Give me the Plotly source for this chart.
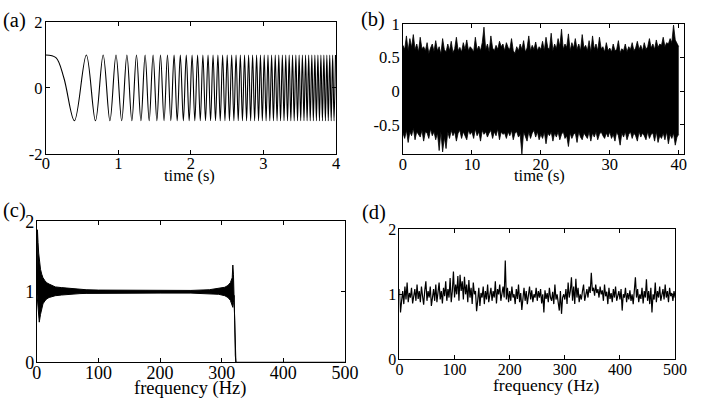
import numpy as np
import plotly.graph_objects as go

# ---------------- data ----------------
# (a) chirp: times (s) of successive extrema / shape points and their values
chirp_t = [0.000, 0.140, 0.250, 0.395, 0.559, 0.685, 0.791, 0.884, 0.968, 1.046, 1.118, 1.186,
           1.250, 1.311, 1.369, 1.425, 1.479, 1.531, 1.581, 1.630, 1.677, 1.723,
           1.768, 1.811, 1.854, 1.896, 1.936, 1.976, 2.016, 2.054, 2.092, 2.129,
           2.165, 2.201, 2.236, 2.271, 2.305, 2.339, 2.372, 2.404, 2.437, 2.469,
           2.500, 2.531, 2.562, 2.592, 2.622, 2.652, 2.681, 2.710, 2.739, 2.767,
           2.795, 2.823, 2.850, 2.878, 2.905, 2.932, 2.958, 2.984, 3.010, 3.036,
           3.062, 3.087, 3.112, 3.137, 3.162, 3.187, 3.211, 3.235, 3.260, 3.283,
           3.307, 3.331, 3.354, 3.377, 3.400, 3.423, 3.446, 3.469, 3.491, 3.513,
           3.536, 3.558, 3.580, 3.601, 3.623, 3.644, 3.666, 3.687, 3.708, 3.729,
           3.750, 3.771, 3.791, 3.812, 3.832, 3.853, 3.873, 3.893, 3.913, 3.933,
           3.953, 3.972, 3.992]
chirp_v = [1, 0.92, 0.30, -1, 1, -1, 1, -1, 1, -1, 1, -1,
           1, -1, 1, -1, 1, -1, 1, -1, 1, -1,
           1, -1, 1, -1, 1, -1, 1, -1, 1, -1,
           1, -1, 1, -1, 1, -1, 1, -1, 1, -1,
           1, -1, 1, -1, 1, -1, 1, -1, 1, -1,
           1, -1, 1, -1, 1, -1, 1, -1, 1, -1,
           1, -1, 1, -1, 1, -1, 1, -1, 1, -1,
           1, -1, 1, -1, 1, -1, 1, -1, 1, -1,
           1, -1, 1, -1, 1, -1, 1, -1, 1, -1,
           1, -1, 1, -1, 1, -1, 1, -1, 1, -1,
           1, -1, 1]

# (b) noise: upper / lower envelope every 0.25 s from 0 to 40 s
noise_upper = [0.68, 0.62, 0.82, 0.60, 0.78, 0.65, 0.84, 0.62, 0.70, 0.58, 0.80, 0.63, 0.66, 0.60, 0.72, 0.56, 0.64, 0.70, 0.59, 0.75,
               0.60, 0.66, 0.55, 0.78, 0.62, 0.58, 0.70, 0.60, 0.74, 0.57, 0.63, 0.80, 0.60, 0.65, 0.58, 0.72, 0.62, 0.76, 0.60, 0.66,
               0.63, 0.58, 0.80, 0.61, 0.67, 0.60, 0.72, 0.95, 0.62, 0.70, 0.58, 0.82, 0.64, 0.60, 0.68, 0.62, 0.74, 0.66, 0.70, 0.60,
               0.72, 0.65, 0.62, 0.78, 0.60, 0.56, 0.66, 0.60, 0.70, 0.62, 0.75, 0.58, 0.64, 0.82, 0.60, 0.68, 0.62, 0.73, 0.60, 0.66,
               0.62, 0.74, 0.60, 0.80, 0.65, 0.62, 0.86, 0.60, 0.70, 0.63, 0.78, 0.66, 0.92, 0.62, 0.70, 0.65, 0.85, 0.60, 0.72, 0.64,
               0.78, 0.62, 0.70, 0.60, 0.84, 0.64, 0.68, 0.60, 0.75, 0.58, 0.82, 0.62, 0.70, 0.60, 0.80, 0.63, 0.66, 0.58, 0.72, 0.60,
               0.64, 0.58, 0.70, 0.60, 0.62, 0.75, 0.57, 0.63, 0.60, 0.70, 0.58, 0.66, 0.62, 0.72, 0.60, 0.64, 0.74, 0.62, 0.68, 0.60,
               0.72, 0.62, 0.66, 0.78, 0.64, 0.70, 0.62, 0.76, 0.65, 0.70, 0.68, 0.80, 0.66, 0.72, 0.70, 0.78, 0.72, 0.98, 0.76, 0.70,
               0.66]
noise_lower = [-0.62, -0.70, -0.58, -0.76, -0.60, -0.66, -0.55, -0.72, -0.60, -0.64, -0.68, -0.58, -0.74, -0.60, -0.62, -0.70, -0.56, -0.66, -0.60, -0.72,
               -0.62, -0.88, -0.60, -0.90, -0.68, -0.85, -0.60, -0.70, -0.58, -0.66, -0.60, -0.74, -0.62, -0.58, -0.70, -0.60, -0.66, -0.72, -0.58, -0.64,
               -0.60, -0.70, -0.56, -0.66, -0.60, -0.74, -0.58, -0.64, -0.60, -0.68, -0.62, -0.58, -0.70, -0.60, -0.66, -0.56, -0.72, -0.60, -0.64, -0.62,
               -0.70, -0.60, -0.66, -0.58, -0.72, -0.62, -0.60, -0.68, -0.64, -0.93, -0.60, -0.66, -0.74, -0.60, -0.70, -0.62, -0.58, -0.68, -0.60, -0.72,
               -0.64, -0.70, -0.60, -0.78, -0.62, -0.66, -0.60, -0.74, -0.62, -0.68, -0.60, -0.72, -0.64, -0.60, -0.70, -0.66, -0.82, -0.62, -0.70, -0.64,
               -0.62, -0.76, -0.60, -0.68, -0.72, -0.62, -0.66, -0.70, -0.60, -0.74, -0.62, -0.68, -0.60, -0.72, -0.64, -0.60, -0.66, -0.70, -0.62, -0.68,
               -0.60, -0.70, -0.64, -0.74, -0.60, -0.66, -0.80, -0.62, -0.68, -0.60, -0.72, -0.64, -0.60, -0.70, -0.62, -0.66, -0.74, -0.60, -0.68, -0.62,
               -0.66, -0.72, -0.60, -0.70, -0.64, -0.62, -0.74, -0.60, -0.76, -0.66, -0.70, -0.62, -0.72, -0.60, -0.78, -0.64, -0.70, -0.62, -0.80, -0.68,
               -0.64]
noise_t = np.linspace(0, 40, len(noise_upper))

# (c) chirp spectrum envelope
spec_f = [0, 1, 2, 3, 4, 6, 8, 10, 13, 16,
          20, 25, 30, 40, 50, 60, 70, 80, 100, 150,
          200, 250, 280, 295, 305, 310, 314, 317, 318, 319,
          320, 321, 322, 323, 500]
spec_upper = [1.0, 1.88, 1.7, 1.55, 1.45, 1.32, 1.25, 1.2, 1.16, 1.13,
              1.11, 1.09, 1.07, 1.06, 1.05, 1.04, 1.035, 1.03, 1.025, 1.02,
              1.02, 1.02, 1.03, 1.045, 1.065, 1.09, 1.13, 1.2, 1.38, 1.25,
              1.0, 0.6, 0.1, 0.0, 0.0]
spec_lower = [1.0, 0.9, 0.7, 0.6, 0.57, 0.68, 0.78, 0.83, 0.87, 0.9,
              0.92, 0.935, 0.945, 0.955, 0.965, 0.97, 0.975, 0.978, 0.98, 0.982,
              0.982, 0.982, 0.975, 0.965, 0.945, 0.92, 0.88, 0.82, 0.78, 0.85,
              0.95, 0.6, 0.1, 0.0, 0.0]

# (d) noise spectrum, every 2 Hz from 0 to 500 Hz
nspec = [1.08, 0.72, 0.90, 1.05, 0.85, 1.12, 0.92, 1.18, 0.88, 1.02, 0.95, 1.10, 0.86, 1.00, 1.08, 0.90, 1.15, 0.93, 1.05, 0.88, 1.12, 0.97, 0.84, 1.06, 1.20,
         0.90, 1.05, 0.95, 1.12, 0.82, 1.00, 1.08, 0.90, 1.15, 0.88, 1.02, 1.18, 0.92, 1.05, 0.86, 1.10, 0.97, 1.20, 0.90, 1.08, 0.95, 1.25, 0.88, 1.05, 1.35,
         0.95, 1.15, 1.00, 1.28, 0.90, 1.30, 1.05, 1.20, 0.92, 1.27, 1.00, 1.15, 0.88, 1.22, 0.95, 1.10, 0.85, 1.18, 1.00, 1.05, 0.74, 0.90, 1.10, 0.82, 1.02,
         0.95, 1.12, 0.85, 1.05, 0.92, 1.15, 0.88, 1.00, 1.10, 0.90, 1.05, 0.95, 1.20, 0.86, 1.08, 1.00, 1.15, 0.90, 1.02, 1.12, 0.95, 1.52, 0.92, 1.10, 0.88,
         1.05, 0.90, 1.12, 0.95, 1.00, 0.85, 1.08, 0.93, 1.15, 0.88, 1.02, 0.76, 0.95, 1.10, 0.90, 1.05, 0.85, 1.00, 1.12, 0.92, 1.06, 0.88, 1.00, 0.95, 1.10,
         0.90, 1.05, 0.95, 1.08, 0.86, 1.00, 0.72, 1.06, 0.93, 1.02, 0.88, 1.10, 0.95, 0.90, 1.04, 0.85, 1.15, 0.92, 1.00, 0.88, 0.75, 1.05, 0.70, 0.95, 1.00,
         0.92, 1.08, 0.85, 1.18, 0.95, 1.05, 1.26, 0.90, 1.12, 0.85, 1.24, 0.95, 1.10, 0.88, 1.00, 0.92, 1.05, 1.15, 0.90, 1.00, 1.08, 0.95, 1.12, 1.02, 1.33,
         1.05, 1.10, 0.98, 1.15, 1.02, 1.08, 0.95, 1.12, 1.00, 1.06, 0.90, 1.15, 0.97, 1.04, 0.85, 1.10, 0.93, 1.02, 0.88, 1.08, 0.95, 1.12, 0.90, 1.00, 1.05,
         0.92, 1.08, 0.75, 1.00, 0.95, 1.10, 0.88, 1.02, 0.92, 1.06, 0.90, 1.00, 0.85, 1.05, 1.26, 0.95, 1.08, 0.88, 1.00, 0.93, 1.10, 0.86, 1.05, 0.95, 1.23,
         0.90, 1.05, 0.85, 1.10, 0.72, 1.00, 0.92, 1.18, 0.88, 1.05, 0.95, 1.12, 0.90, 1.00, 1.08, 0.92, 1.15, 0.95, 1.05, 0.88, 1.10, 0.97, 1.02, 0.90, 1.05,
         0.95]
nspec_f = np.linspace(0, 500, len(nspec))

# tick labels
a_xticks = [0, 1, 2, 3, 4]
a_yticks = [-2, 0, 2]
b_xticks = [0, 10, 20, 30, 40]
b_yticks = [-0.5, 0, 0.5, 1]
f_xticks = [0, 100, 200, 300, 400, 500]
f_yticks = [0, 1, 2]

# ---------------- figure ----------------
W, H = 701, 400
FONT = "Liberation Serif"

# the captured picture comes out slightly shrunk; map target picture pixels to figure pixels
SX, OX, SY, OY = 0.98, 3.0, 0.963, 6.8


def fx(p):
    return (p - OX) / SX


def fy(p):
    return (p - OY) / SY


def dom_x(a, b):
    return [max(0, a) / W, min(W, b) / W]


def dom_y(top, bottom):
    return [max(0, 1 - bottom / H), min(1, 1 - top / H)]


fig = go.Figure()

fig.add_trace(go.Scatter(x=chirp_t, y=chirp_v, mode="lines",
                         line=dict(color="black", width=1.1, shape="spline"),
                         xaxis="x", yaxis="y", hoverinfo="skip"))
fig.add_trace(go.Scatter(x=noise_t, y=noise_lower, mode="lines",
                         line=dict(color="black", width=0.8),
                         xaxis="x2", yaxis="y2", hoverinfo="skip"))
fig.add_trace(go.Scatter(x=noise_t, y=noise_upper, mode="lines",
                         line=dict(color="black", width=0.8),
                         fill="tonexty", fillcolor="black",
                         xaxis="x2", yaxis="y2", hoverinfo="skip"))
fig.add_trace(go.Scatter(x=spec_f, y=spec_lower, mode="lines",
                         line=dict(color="black", width=1),
                         xaxis="x3", yaxis="y3", hoverinfo="skip"))
fig.add_trace(go.Scatter(x=spec_f, y=spec_upper, mode="lines",
                         line=dict(color="black", width=1),
                         fill="tonexty", fillcolor="black",
                         xaxis="x3", yaxis="y3", hoverinfo="skip"))
fig.add_trace(go.Scatter(x=nspec_f, y=nspec, mode="lines",
                         line=dict(color="black", width=1.2),
                         xaxis="x4", yaxis="y4", hoverinfo="skip"))


def ax(domain, rng, ticks, anchor, standoff, size):
    return dict(domain=domain, range=rng, tickvals=ticks,
                ticktext=[("%g" % t) for t in ticks],
                showline=True, linecolor="black", linewidth=1, mirror="ticks",
                ticks="inside", ticklen=4, tickcolor="black", tickwidth=1,
                showgrid=False, zeroline=False, anchor=anchor,
                ticklabelstandoff=standoff,
                tickfont=dict(family=FONT, size=size, color="black"),
                fixedrange=True)


# (b): left edge mapped, right end limited so that the "40" label stays inside
b_left = fx(404.3)
b_unit = (692.5 - b_left) / 40.0
b_right = b_left + 40.8 * b_unit

fig.update_layout(
    width=W, height=H,
    margin=dict(l=0, r=0, t=0, b=0, pad=0),
    paper_bgcolor="white", plot_bgcolor="white",
    showlegend=False,
    xaxis=ax(dom_x(fx(45), fx(337)), [0, 4], a_xticks, "y", -6, 16.5),
    yaxis=ax(dom_y(fy(19), fy(152.5)), [-2, 2], a_yticks, "x", -1, 16.5),
    xaxis2=ax(dom_x(b_left, b_right), [0, 40.8], b_xticks, "y2", -5, 16.5),
    yaxis2=ax(dom_y(fy(20.7), fy(152.7)), [-0.93, 1.001], b_yticks, "x2", -1, 16.5),
    xaxis3=ax(dom_x(fx(36), fx(346)), [0, 500], f_xticks, "y3", -6, 18),
    yaxis3=ax(dom_y(fy(221), fy(364)), [0, 2], f_yticks, "x3", -2, 18),
    xaxis4=ax(dom_x(fx(400.7), 688.8), [0, 500], f_xticks, "y4", -5, 16),
    yaxis4=ax(dom_y(fy(229), fy(361)), [0, 2], f_yticks, "x4", -1, 16),
)

# panel labels and axis titles: (text, x fig px, y fig px, size)
labels = [
    ("(a)", 10.5, fy(17.5), 20.5), ("(b)", fx(374), 10.0, 20.5),
    ("(c)", 10.5, fy(210.5), 20.5), ("(d)", fx(375.5), fy(212), 20.5),
    ("time (s)", fx(190), fy(174.5), 16.5), ("time (s)", fx(541.5), fy(174.5), 16.5),
    ("frequency (Hz)", fx(190.5), fy(390), 18.5), ("frequency (Hz)", fx(548.5), fy(387), 17.5),
]
for text, x, y, size in labels:
    fig.add_annotation(text=text, x=x / W, y=1 - y / H, xref="paper", yref="paper",
                       showarrow=False, xanchor="center", yanchor="middle",
                       font=dict(family=FONT, size=size, color="black"))

fig.write_html("out.html", config={"staticPlot": True})
